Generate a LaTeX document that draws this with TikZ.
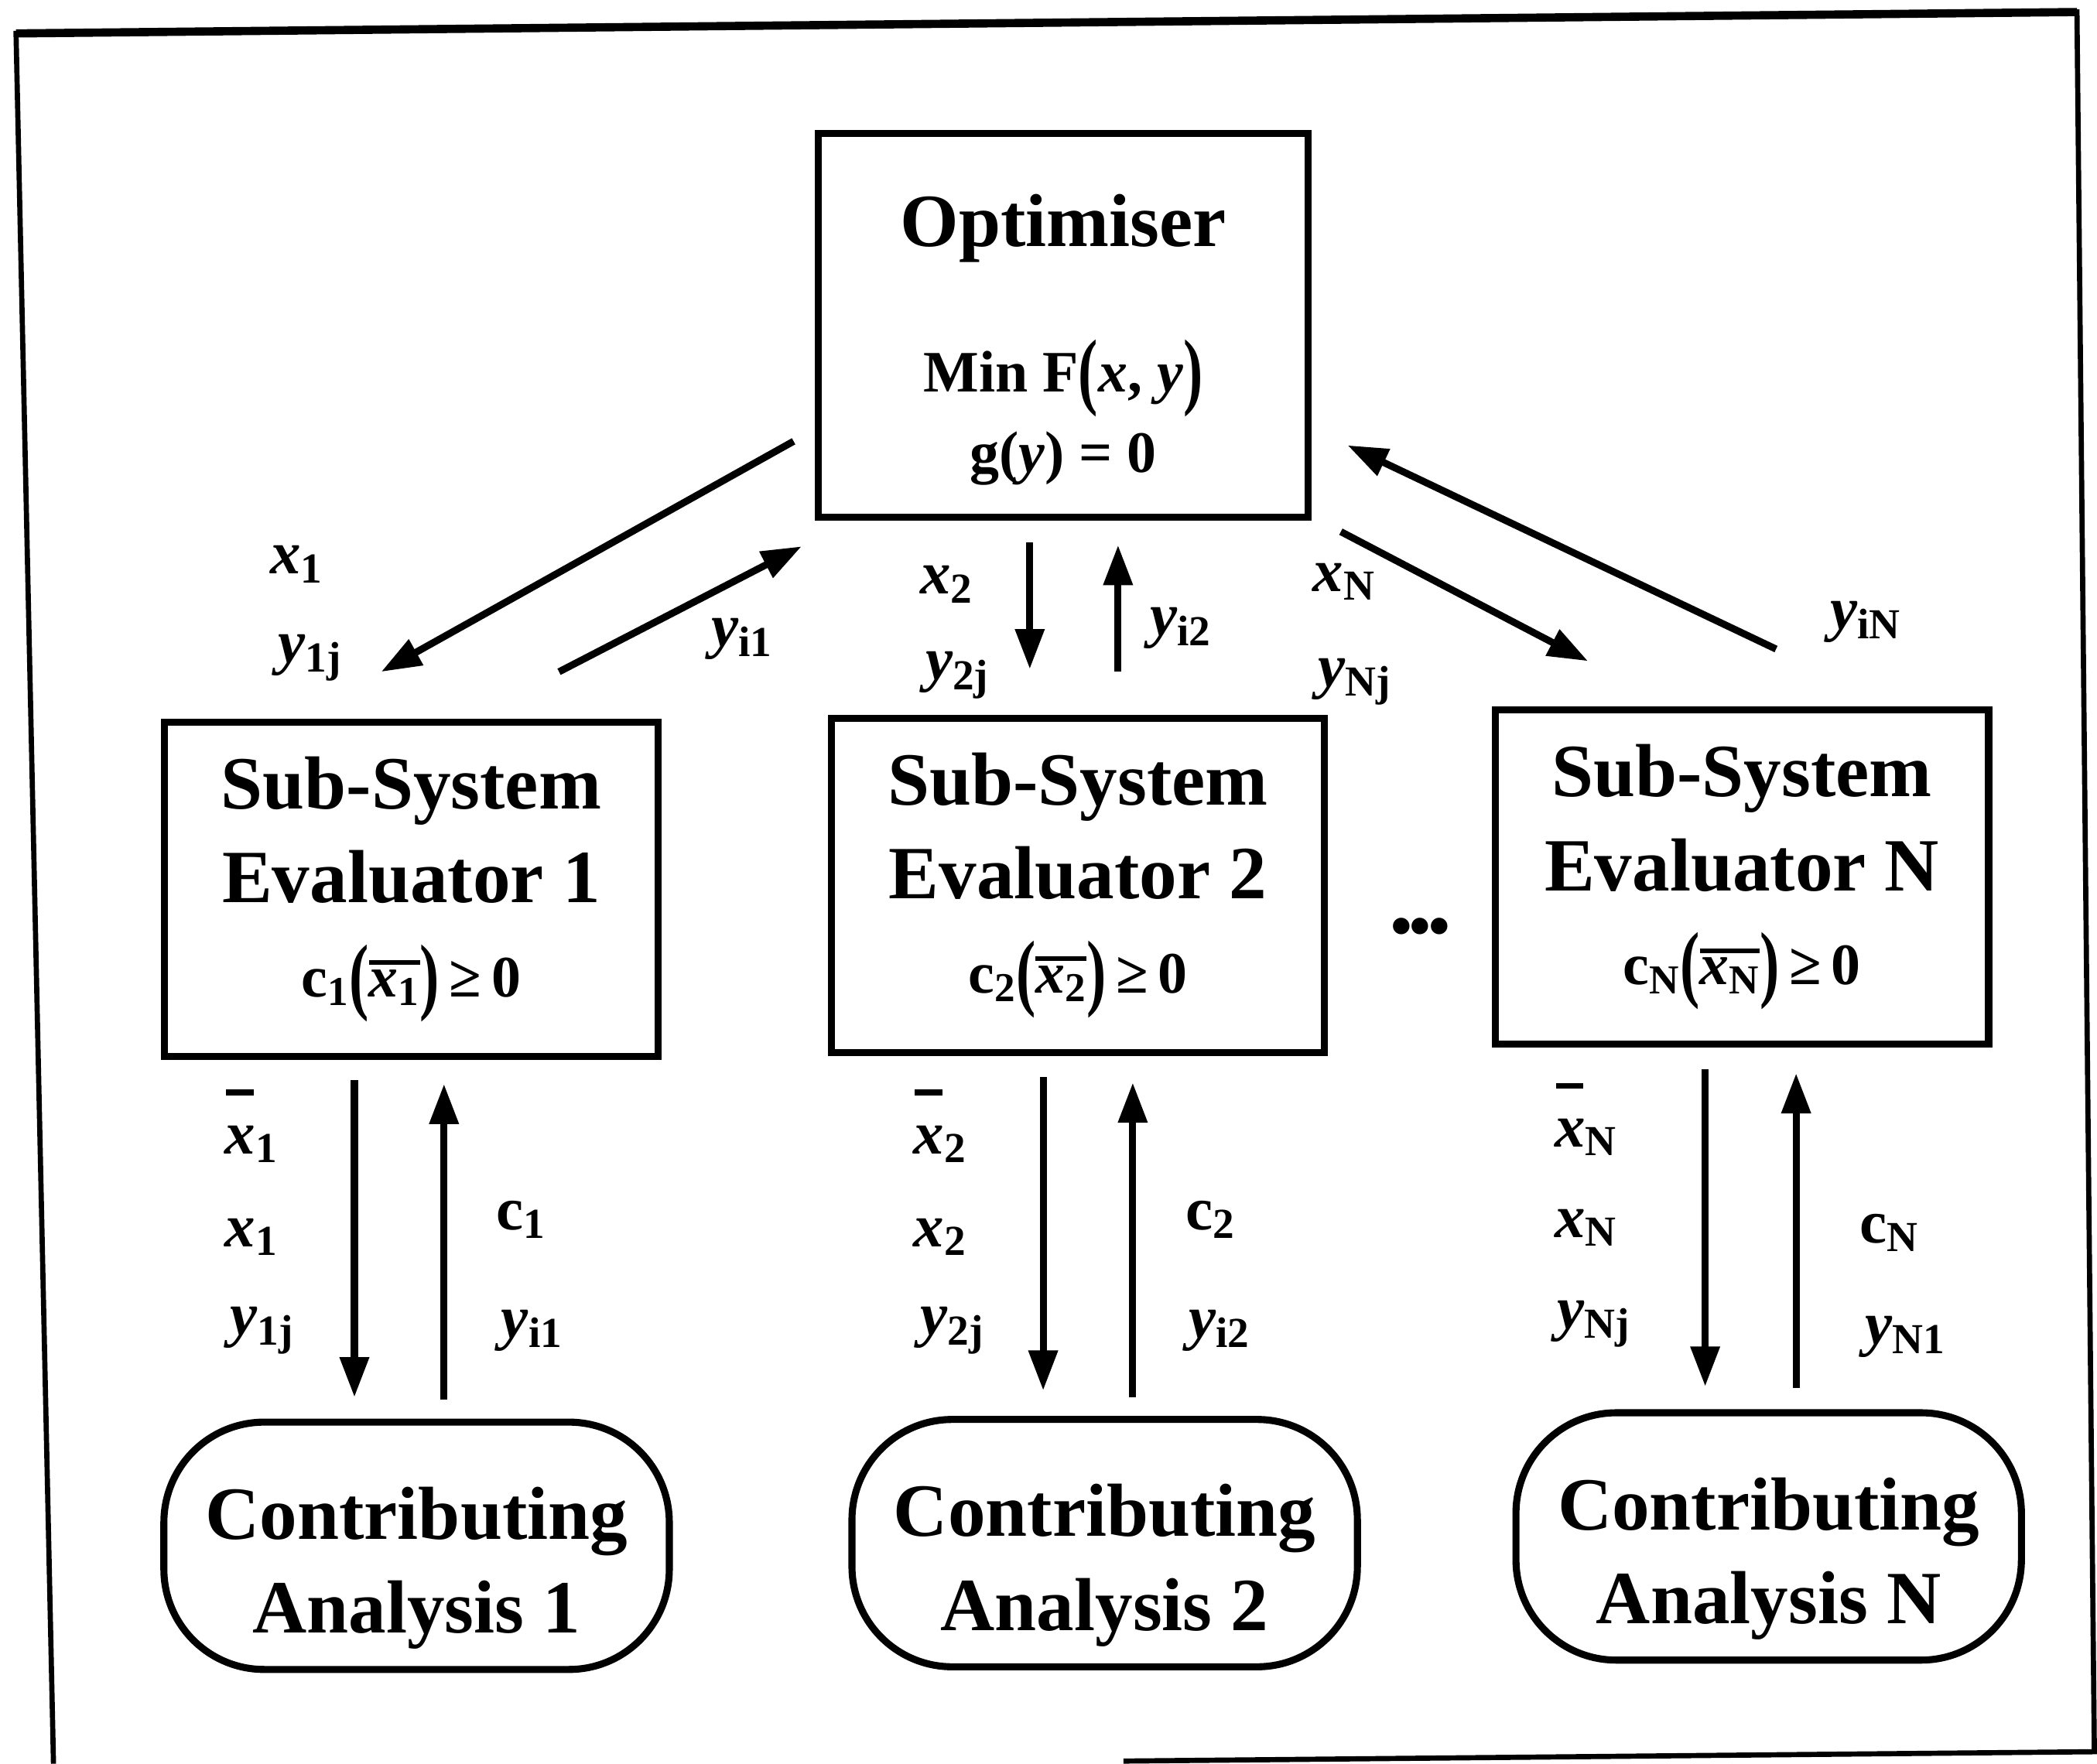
\documentclass[tikz,border=0pt]{standalone}
\usepackage{fontspec}
\usepackage{graphicx}
\setmainfont{Liberation Serif}
\usetikzlibrary{calc,arrows.meta}
\newcommand{\vv}[2]{\textbf{\textit{#1}}\textsubscript{\textbf{#2}}}
\newcommand{\vbar}[2]{\makebox[0pt][l]{\hspace{0.02em}\raisebox{0.95em}{\rule{0.45em}{0.1em}}}\textbf{\textit{#1}}\textsubscript{\textbf{#2}}}
\newcommand{\ovl}[1]{\leavevmode\vbox{\hrule height 2pt\kern 2pt\hbox{#1}}}
\newcommand{\lpar}{\raisebox{-0.12em}{\scalebox{1}[1.45]{(}}}
\newcommand{\rpar}{\raisebox{-0.12em}{\scalebox{1}[1.45]{)}}}
\newcommand{\bigfont}{\fontsize{32}{40}\selectfont\bfseries}
\newcommand{\midfont}{\fontsize{25}{31}\selectfont\bfseries}
\newcommand{\labfont}{\fontsize{26}{30}\selectfont\bfseries}
\newcommand{\cond}[1]{c\textsubscript{#1}\lpar\ovl{\textit{x}\textsubscript{#1}}\rpar\,≥\,0}
\begin{document}
\begin{tikzpicture}[x=0.02cm,y=-0.02cm,
  box/.style={draw,line width=3pt,minimum width=7.38cm,minimum height=5cm,align=center,font=\bigfont,inner sep=0pt},
  ca/.style={draw,line width=3pt,rounded corners=1.5cm,minimum width=7.56cm,minimum height=3.7cm,align=center,font=\bigfont,inner sep=0pt},
  arr/.style={line width=3pt,-{Triangle[length=0.6cm,width=0.42cm]}},
  lab/.style={font=\labfont,inner sep=0pt},
  frame/.style={line width=2.2pt}]

\useasboundingbox (0,0) rectangle (1568,1319);
\draw[frame] (840,1317) -- (1566,1310) -- (1553,9) -- (12,25) -- (40,1319);
\draw[line width=3.5pt] (12,25) -- (1553,9);

\node[box,minimum width=7.32cm,minimum height=5.74cm] (opt) at (795,243.5)
  {\rule{0pt}{1.2cm}Optimiser\\[22pt]{\midfont Min F\lpar\textit{x}, \textit{y}\rpar}\\[-6pt]{\midfont g(\textit{y}) = 0}};

\node[box] (sse1) at (307.5,665) {Sub-System\\Evaluator 1\\{\midfont\cond{1}}};
\node[box] (sse2) at (806,662) {Sub-System\\Evaluator 2\\{\midfont\cond{2}}};
\node[box] (ssen) at (1302.5,656) {Sub-System\\Evaluator N\\{\midfont\cond{N}}};

\node[ca] (ca1) at (311.5,1156) {\rule{0pt}{1.45cm}Contributing\\Analysis 1};
\node[ca] (ca2) at (826,1154) {\rule{0pt}{1.45cm}Contributing\\Analysis 2};
\node[ca] (can) at (1322.5,1149) {\rule{0pt}{1.45cm}Contributing\\Analysis N};

\node[font=\fontsize{26}{28}\selectfont\bfseries] (dots) at (1062,697) {\textbullet\hspace{-1pt}\textbullet\hspace{-1pt}\textbullet};

% top connectors
\draw[arr] ($(opt.west)+(-16,86.5)$) -- ($(sse1.north)+(-22.5,-35)$);
\draw[arr] ($(sse1.north)+(110.5,-35)$) -- ($(opt.south west)+(-10,19)$);
\draw[arr] ($(opt.south)+(-25,16)$) -- ($(sse2.north)+(-36,-34)$);
\draw[arr] ($(sse2.north)+(30,-32)$) -- ($(opt.south)+(41,18)$);
\draw[arr] ($(opt.south east)+(22,8)$) -- ($(ssen.north west)+(72,-34)$);
\draw[arr] ($(ssen.north)+(25.5,-43)$) -- ($(opt.east)+(27,89.5)$);

% bottom connectors
\draw[arr] ($(sse1.south)+(-42.5,15)$) -- ($(ca1.north)+(-46.5,-16)$);
\draw[arr] ($(ca1.north)+(20.5,-14)$) -- ($(sse1.south)+(24.5,18)$);
\draw[arr] ($(sse2.south)+(-26,16)$) -- ($(ca2.north)+(-46,-19)$);
\draw[arr] ($(ca2.north)+(21,-14)$) -- ($(sse2.south)+(41,20)$);
\draw[arr] ($(ssen.south)+(-27.5,16)$) -- ($(can.north)+(-47.5,-17)$);
\draw[arr] ($(can.north)+(20.5,-16)$) -- ($(ssen.south)+(40.5,19)$);

% top labels
\node[lab] (tx1) at (222,422) {\vv{x}{1}};
\node[lab] (ty1j) at (232,492) {\vv{y}{1j}};
\node[lab] (tyi1) at (555,478) {\vv{y}{i1}};
\node[lab] (tx2) at (708,437) {\vv{x}{2}};
\node[lab] (ty2j) at (716,505) {\vv{y}{2j}};
\node[lab] (tyi2) at (883,470) {\vv{y}{i2}};
\node[lab] (txn) at (1005,435) {\vv{x}{N}};
\node[lab] (tynj) at (1013,510) {\vv{y}{Nj}};
\node[lab] (tyin) at (1395,465) {\vv{y}{iN}};

% bottom labels
\node[lab] (bxb1) at (188,842) {\vbar{x}{1}};
\node[lab] (bx1) at (188,925) {\vv{x}{1}};
\node[lab] (by1j) at (196,995) {\vv{y}{1j}};
\node[lab] (bc1) at (390,912) {\textbf{c}\textsubscript{\textbf{1}}};
\node[lab] (byi1) at (398,995) {\vv{y}{i1}};

\node[lab] (bxb2) at (703,842) {\vbar{x}{2}};
\node[lab] (bx2) at (703,925) {\vv{x}{2}};
\node[lab] (by2j) at (712,995) {\vv{y}{2j}};
\node[lab] (bc2) at (905,912) {\textbf{c}\textsubscript{\textbf{2}}};
\node[lab] (byi2) at (912,995) {\vv{y}{i2}};

\node[lab] (bxbn) at (1186,837) {\vbar{x}{N}};
\node[lab] (bxn) at (1186,918) {\vv{x}{N}};
\node[lab] (bynj) at (1192,990) {\vv{y}{Nj}};
\node[lab] (bcn) at (1413,922) {\textbf{c}\textsubscript{\textbf{N}}};
\node[lab] (byn1) at (1425,1000) {\vv{y}{N1}};
\end{tikzpicture}
\end{document}
